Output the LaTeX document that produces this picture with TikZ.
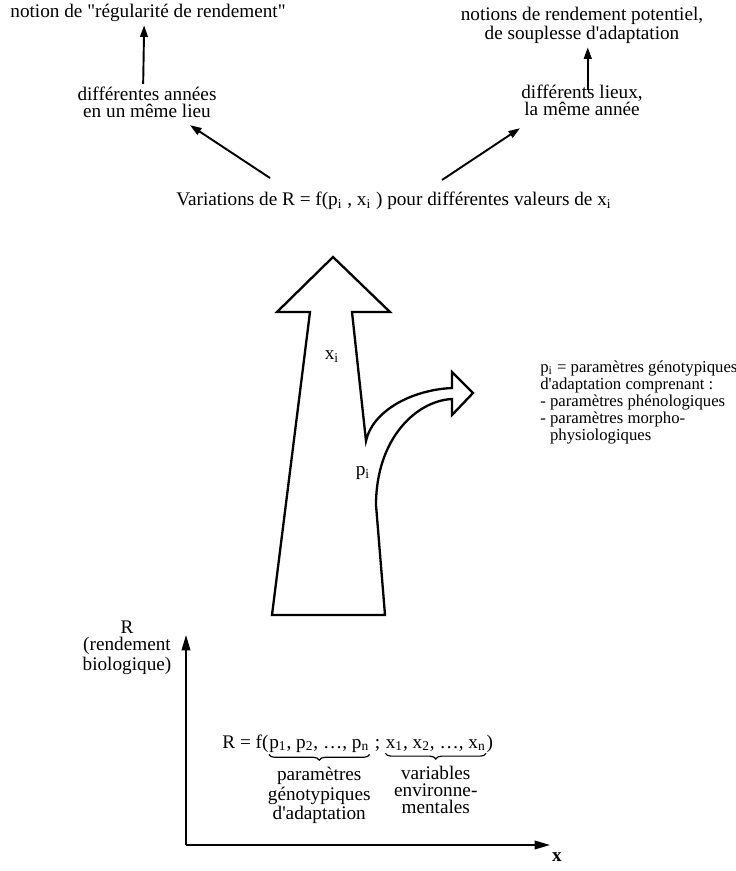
\documentclass[tikz,border=0pt]{standalone}
\usepackage{fontspec}
\setmainfont{Liberation Serif}
\usetikzlibrary{arrows.meta,decorations.pathreplacing,calc}

\begin{document}
\begin{tikzpicture}[x=0.52pt,y=0.52pt,
    txt/.style={inner sep=1.5pt,font=\fontsize{10}{8.8}\selectfont,align=center},
    petit/.style={inner sep=1.5pt,font=\fontsize{8.7}{8.8}\selectfont,align=left},
    fleche/.style={line width=1pt,-{Triangle[length=6pt,width=4pt]}},
    axe/.style={line width=0.9pt,-{Triangle[length=8pt,width=4.5pt]}},
    contour/.style={line width=1.2pt,line join=miter},
    accolade/.style={decorate,decoration={brace,mirror,amplitude=3pt},line width=0.6pt}]
    \useasboundingbox (0,0) rectangle (735,-871);

    % les deux notions
    \node[txt,anchor=base] (regul) at (148,-18) {notion de \textquotedbl régularité de rendement\textquotedbl};
    \node[txt,anchor=north] (potentiel) at (582,-4) {notions de rendement potentiel,\\de souplesse d\textquotesingle adaptation};
    \node[txt,anchor=north] (annees) at (147,-84) {différentes années\\en un même lieu};
    \node[txt,anchor=north] (lieux) at (582,-82) {différents lieux,\\la même année};
    \node[txt,anchor=base] (variations) at (394,-206) {Variations de R = f(p\textsubscript{i} , x\textsubscript{i} ) pour différentes valeurs de x\textsubscript{i}};

    \coordinate (queueG) at (270,-178);
    \coordinate (queueD) at (442,-180);

    \draw[fleche] ([xshift=-2pt]annees.north) -- ([xshift=-2pt]regul.south);
    \draw[fleche,shorten <=-4pt] ([xshift=3pt]lieux.north) -- ([xshift=3pt]potentiel.south);
    \draw[fleche] (queueG) -- ($(annees.south)+(43,-4)$);
    \draw[fleche] (queueD) -- ($(lieux.south)+(-62,-9)$);

    % grande fleche
    \draw[contour] (333,-257) -- (390,-312) -- (352,-312) -- (366,-441)
        .. controls (372,-412) and (410,-390) .. (452,-388)
        -- (452,-372) -- (473,-393) -- (452,-415) -- (452,-399)
        .. controls (415,-401) and (376,-440) .. (376,-505)
        -- (385,-615) -- (272,-615) -- (310,-312) -- (277,-312) -- cycle;

    \node[txt] (xi) at (332,-357) {x\textsubscript{i}};
    \node[txt] (pi) at (363,-473) {p\textsubscript{i}};

    \node[petit,anchor=north west] (pinfo) at (537,-358) {p\textsubscript{i} = paramètres génotypiques\\d\textquotesingle adaptation comprenant :\\- paramètres phénologiques\\- paramètres morpho-\\\phantom{- }physiologiques};

    % axes
    \coordinate (O) at (186,-845);
    \coordinate (ytop) at (186,-635);
    \coordinate (xbout) at (550,-845);
    \draw[axe] (O) -- (ytop);
    \draw[axe] (O) -- (xbout);
    \node[txt,anchor=north] (Rlab) at (127,-618) {R\\(rendement\\biologique)};
    \node[txt,font=\bfseries\fontsize{10}{10}\selectfont] (xlab) at (557,-857) {x};

    % R = f(...)
    \node[txt,anchor=base west,inner sep=0pt] (f0) at (222,-748) {R = f(};
    \node[txt,anchor=base west,inner sep=0pt] (fp) at (f0.base east) {p\textsubscript{1}, p\textsubscript{2}, \dots, p\textsubscript{n}};
    \node[txt,anchor=base west,inner sep=0pt] (fsep) at (fp.base east) {\ ;\ };
    \node[txt,anchor=base west,inner sep=0pt] (fx) at (fsep.base east) {x\textsubscript{1}, x\textsubscript{2}, \dots, x\textsubscript{n}};
    \node[txt,anchor=base west,inner sep=0pt] (f1) at (fx.base east) {)};

    \draw[accolade] ([yshift=-1pt]fp.south west) -- ([yshift=-1pt]fp.south east);
    \draw[accolade] ([yshift=-1pt]fx.south west) -- ([yshift=-1pt]fx.south east);
    \node[txt,anchor=north] (ptxt) at ([yshift=-6pt]fp.south) {paramètres\\génotypiques\\d\textquotesingle adaptation};
    \node[txt,anchor=north] (xtxt) at ([yshift=-6pt]fx.south) {variables\\environne-\\mentales};
\end{tikzpicture}
\end{document}
